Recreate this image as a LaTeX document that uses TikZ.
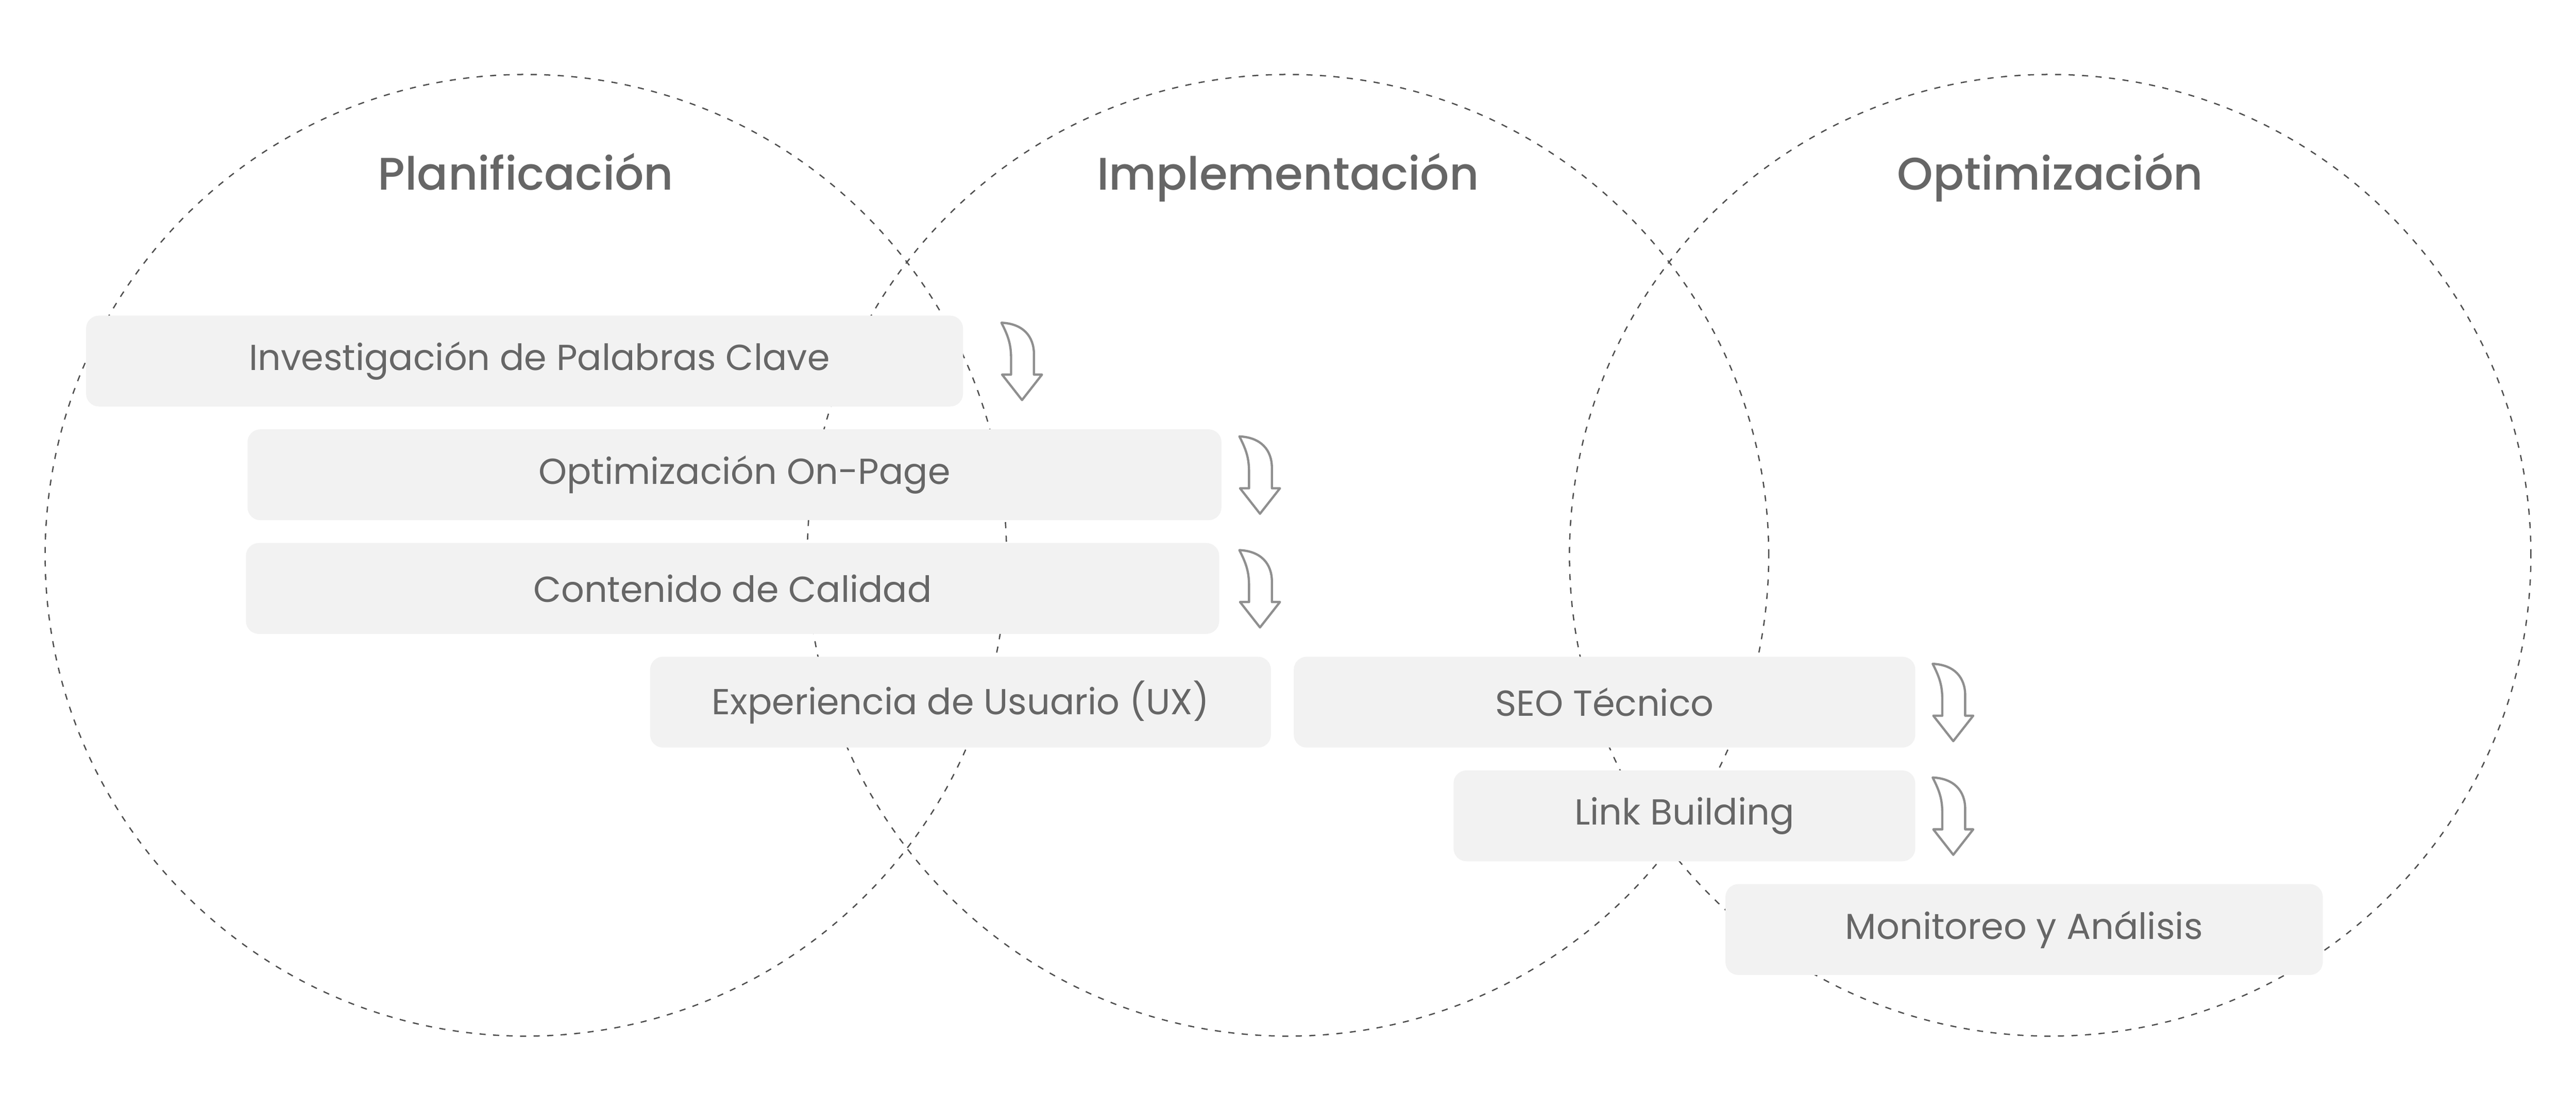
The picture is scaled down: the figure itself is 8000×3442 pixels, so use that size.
\documentclass[tikz,border=0pt]{standalone}
\usepackage{fontspec}
\setmainfont{Poppins}
\newfontfamily\mediumfont{Poppins}[UprightFont={* Medium}]
\definecolor{ringgray}{HTML}{4D4D4D}
\definecolor{boxgray}{HTML}{F2F2F2}
\definecolor{textgray}{HTML}{666666}
\definecolor{arrowgray}{HTML}{8F8F8F}
\tikzset{
  turnarrow/.pic={
    \draw[arrowgray, line width=0.07cm, line join=round]
      (2,2) .. controls (24,45) and (32,70) .. (32,115) -- (32,163) -- (4,163)
      -- (66,242) -- (128,163) -- (103,163) -- (103,100)
      .. controls (103,45) and (70,5) .. (2,2) -- cycle;
  }
}
\begin{document}
\begin{tikzpicture}[x=0.01cm, y=-0.01cm]
\tikzstyle{ring} = [circle, draw=ringgray, line width=0.04cm, dash pattern=on 0.19cm off 0.23cm, minimum size=29.84cm, inner sep=0cm]
\tikzstyle{title} = [text=textgray, font=\mediumfont\fontsize{40.3}{48}\selectfont, anchor=base]
\tikzstyle{stage} = [fill=boxgray, rounded corners=0.4cm, minimum height=2.82cm, inner sep=0cm, text=textgray, font=\fontsize{31.9}{38}\selectfont]
\useasboundingbox (0,0) rectangle (8000,3442);

% the three phases
\node[ring] (plan) at (1633,1724) {};
\node[ring] (impl) at (4000,1724) {};
\node[ring] (opti) at (6367,1724) {};
\node[title] (plant) at (1633,590) {Planificación};
\node[title] (implt) at (4000,590) {Implementación};
\node[title] (optit) at (6367,590) {Optimización};

% steps
\node[stage, minimum width=27.22cm] (kw) at (1629,1121) {\hspace*{0.92cm}Investigación de Palabras Clave};
\node[stage, minimum width=30.23cm] (onpage) at (2281,1474) {\hspace*{0.62cm}Optimización On-Page};
\node[stage, minimum width=30.21cm] (content) at (2275,1827) {Contenido de Calidad};
\node[stage, minimum width=19.27cm] (ux) at (2983,2180) {Experiencia de Usuario (UX)};
\node[stage, minimum width=19.29cm] (tech) at (4983,2180) {SEO Técnico};
\node[stage, minimum width=14.33cm] (links) at (5231,2533) {Link Building};
\node[stage, minimum width=18.54cm] (monitor) at (6286,2886) {Monitoreo y Análisis};

% arrows
\pic at (3108,1000) {turnarrow};
\pic at (3847,1353) {turnarrow};
\pic at (3847,1706) {turnarrow};
\pic at (6000,2059) {turnarrow};
\pic at (6000,2412) {turnarrow};
\end{tikzpicture}
\end{document}
